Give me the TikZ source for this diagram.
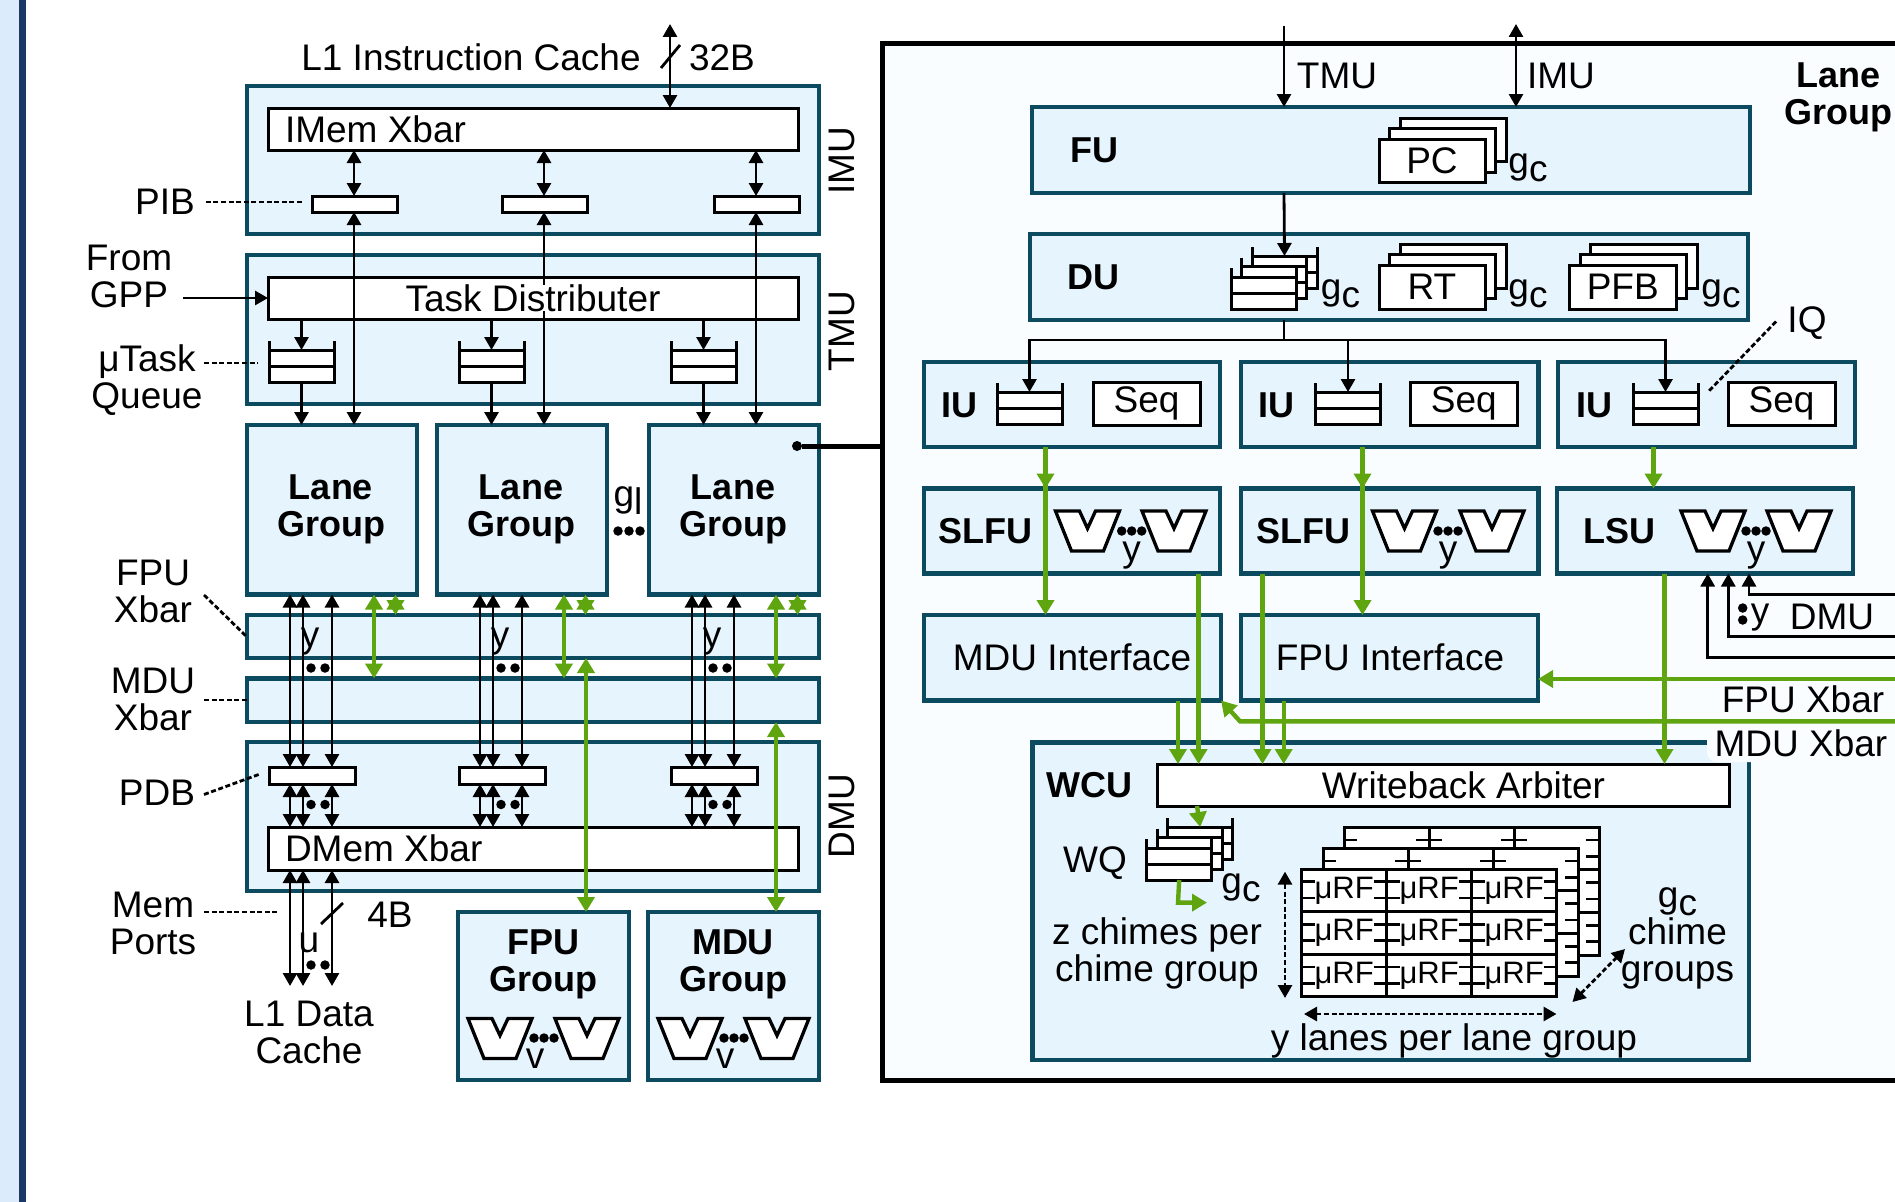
\documentclass[tikz,border=0pt]{standalone}
\usepackage{fontspec}
\setmainfont{Liberation Sans}
\usetikzlibrary{arrows.meta}
\definecolor{stripL}{HTML}{DCEBFB}
\definecolor{stripD}{HTML}{1A3864}
\definecolor{tealB}{HTML}{0B4A5F}
\definecolor{unitF}{HTML}{E6F4FE}
\definecolor{bigF}{HTML}{FAFDFF}
\definecolor{grn}{HTML}{5FA510}
\tikzset{
  unitbox/.style={draw=tealB,fill=unitF,line width=4.4pt,inner sep=0pt,outer sep=0pt},
  wbox/.style={draw=black,fill=white,line width=3pt,inner sep=0pt,outer sep=0pt,font=\fontsize{37}{37}\selectfont},
  bigbox/.style={draw=black,fill=bigF,line width=5pt,inner sep=0pt,outer sep=0pt},
  lab/.style={font=\fontsize{37}{37}\selectfont,inner sep=0pt,outer sep=0pt,align=center},
  blab/.style={font=\fontsize{36}{37}\selectfont\bfseries,inner sep=0pt,outer sep=0pt,align=center},
  one/.style={text height=26.5pt,text depth=0pt},
  urflab/.style={font=\fontsize{31}{31}\selectfont},
  blk/.style={line width=2.8pt,draw=black},
  ar/.style={blk,-{Triangle[length=13pt,width=14pt]}},
  dar/.style={blk,{Triangle[length=13pt,width=14pt]}-{Triangle[length=13pt,width=14pt]}},
  dsh/.style={blk,dash pattern=on 5pt off 2.6pt},
  dshd/.style={blk,dash pattern=on 5pt off 2.6pt,{Triangle[length=13pt,width=14pt]}-{Triangle[length=13pt,width=14pt]}},
  gl/.style={line width=4.4pt,draw=grn},
  gar/.style={gl,-{Triangle[length=15pt,width=17pt]}},
  gdar/.style={gl,{Triangle[length=15pt,width=17pt]}-{Triangle[length=15pt,width=17pt]}},
  dotn/.style={circle,fill=black,inner sep=0pt,outer sep=0pt,minimum size=9.5pt},
}
\newcommand\bx[7]{\node[#1,minimum width={(#4)-(#2)},minimum height={(#5)-(#3)}] (#6) at ({((#2)+(#4))/2},{((#3)+(#5))/2}) {#7};}
\newcommand\gsub[1]{g\raisebox{-8pt}{#1}}
% queue: #1 name, #2 left x, #3 bottom y
\newcommand\queue[3]{%
  \bx{wbox}{#2}{#3-32}{#2+65}{#3}{#1}{}
  \draw[line width=3pt] (#2,#3-41) -- (#2,#3-32) (#2+65,#3-41) -- (#2+65,#3-32) (#2,#3-16) -- (#2+65,#3-16);
}
% stack of three boxes: #1 name, #2 x1, #3 y1, #4 x2, #5 y2, #6 text
\newcommand\stackb[6]{%
  \bx{wbox}{#2+21}{#3-21}{#4+21}{#5-21}{#1back}{}
  \bx{wbox}{#2+10.5}{#3-10.5}{#4+10.5}{#5-10.5}{#1mid}{}
  \bx{wbox}{#2}{#3}{#4}{#5}{#1}{#6}
}
\newcommand\qstack[3]{%
  \queue{#1back}{#2+21}{#3-21}
  \queue{#1mid}{#2+10.5}{#3-10.5}
  \queue{#1}{#2}{#3}
}
% notched trapezoid: #1 centre x, #2 top y, #3 half top, #4 half bottom, #5 height, #6 notch depth
\newcommand\trap[6]{\draw[line width=3.3pt,fill=white,line join=miter] (#1-#3,#2) -- (#1-8,#2) -- (#1,#2+#6) -- (#1+8,#2) -- (#1+#3,#2) -- (#1+#4,#2+#5) -- (#1-#4,#2+#5) -- cycle;}
\newcommand\urflayer[4]{%
  \foreach \r in {0,1,2}{\foreach \c in {0,1,2}{%
    \pgfmathsetmacro\cx{#2+85*\c}\pgfmathsetmacro\cy{#3+42.6*\r}
    \node[wbox,urflab,minimum width=85,minimum height=42.6,anchor=north west] (#1r\r c\c) at (\cx,\cy) {#4};
    \draw[line width=2.8pt] (\cx,\cy+12.7) -- +(13,0) (\cx,\cy+29) -- +(13,0) (\cx+85,\cy+12.7) -- +(-13,0) (\cx+85,\cy+29) -- +(-13,0);
  }}%
}
\begin{document}
\begin{tikzpicture}[x=1pt,y=-1pt]
\useasboundingbox (0,0) rectangle (1895,1201.5);
\clip (0,0) rectangle (1895,1201.5);
\fill[white] (0,0) rectangle (1895,1203);
\fill[stripL] (0,0) rectangle (19,1203);
\fill[stripD] (19,0) rectangle (26,1203);

% ---------- left column ----------
\bx{unitbox}{247}{86}{819}{234}{imu}{}
\bx{unitbox}{247}{255}{819}{404}{tmu}{}
\bx{unitbox}{247}{615}{819}{658}{fpux}{}
\bx{unitbox}{247}{678.5}{819}{722}{mdux}{}
\bx{unitbox}{247}{742}{819}{891}{dmu}{}
\bx{wbox}{268}{108}{798}{150}{imem}{}
\bx{wbox}{268}{277}{798}{319}{td}{}
\bx{wbox}{268}{827}{798}{870}{dmem}{}
\bx{unitbox}{458}{912}{629}{1080}{fpug}{}
\bx{unitbox}{648}{912}{819}{1080}{mdug}{}

\foreach \i/\d in {1/0,2/190,3/402}{
  \bx{unitbox}{247+\d}{425}{417+\d}{594.5}{lg\i}{}
  \bx{wbox}{312+\d}{196}{397+\d}{212}{pib\i}{}
  \bx{wbox}{269+\d}{767}{355+\d}{784}{pdb\i}{}
  \queue{tq\i}{269+\d}{382}
  \draw[dar] (354+\d,0 |- imem.south) -- (354+\d,0 |- pib\i.north);
  \draw[dar] (354+\d,0 |- pib\i.south) -- (354+\d,0 |- lg\i.north);
  \draw[ar] (tq\i.north |- td.south) -- (tq\i.north);
  \draw[ar] (tq\i.south) -- (tq\i.south |- lg\i.north);
  \foreach \xx in {290,303,332}{
    \draw[dar] (\xx+\d,0 |- lg\i.south) -- (\xx+\d,0 |- pdb\i.north);
    \draw[dar] (\xx+\d,0 |- pdb\i.south) -- (\xx+\d,0 |- dmem.north);
  }
  \node[lab,one] (yl\i) at (310+\d,634) {y};
  \node[dotn] (ya\i) at (311+\d,668) {};
  \node[dotn] (yb\i) at (325+\d,668) {};
  \node[dotn] (pa\i) at (311+\d,804.5) {};
  \node[dotn] (pb\i) at (325+\d,804.5) {};
  \draw[gdar] (374+\d,0 |- lg\i.south) -- (374+\d,0 |- mdux.north);
  \draw[gdar] (395.5+\d,0 |- lg\i.south) -- (395.5+\d,0 |- fpux.north);
}
\foreach \xx in {290,303,332}{\coordinate (memend\xx) at (\xx,986); \draw[dar] (\xx,0 |- dmem.south) -- (memend\xx);}
\draw[gdar] (586,0 |- fpux.south) -- (586,0 |- fpug.north);
\draw[gdar] (776,0 |- mdux.south) -- (776,0 |- mdug.north);
\coordinate (l1top) at (670,24);
\draw[dar] (l1top) -- (l1top |- imem.north);
\coordinate (sla) at (661,68); \coordinate (slb) at (680,45);
\draw[blk] (sla) -- (slb);
\coordinate (slc) at (321,924); \coordinate (sld) at (343,903);
\draw[blk] (slc) -- (sld);

\node[lab,one] (tdtext) at (533,298) [fill=white] {Task Distributer};
\node[lab,one,anchor=west] (imemt) at (285,129) {IMem Xbar};
\node[lab,one,anchor=west] (dmemt) at (285,848) {DMem Xbar};
\node[lab,one] (l1i) at (471,57) {L1 Instruction Cache};
\node[lab,one] (b32) at (722,57) {32B};
\node[lab,one] (pibt) at (165,201) {PIB};
\coordinate (pibe) at (302,202);
\draw[dsh] (pibt.east |- pibe) ++(11,0) -- (pibe);
\node[lab] (gpp) at (129,276) {From\\GPP};
\coordinate (gppa) at (183,298);
\draw[ar] (gppa) -- (gppa -| td.west);
\node[lab] (mut) at (147,380) {μTask\\Queue};
\coordinate (muta) at (204,363); \coordinate (mutb) at (258,363);
\draw[dsh] (muta) -- (mutb);
\node[lab,rotate=90] (imut) at (842,161) {IMU};
\node[lab,rotate=90] (tmut) at (842,331) {TMU};
\node[lab,rotate=90] (dmut) at (842,816) {DMU};
\node[blab] (lgt1) at (331,509) {Lane\\Group};
\node[blab] (lgt2) at (521,509) {Lane\\Group};
\node[blab] (lgt3) at (733,509) {Lane\\Group};
\node[lab,one] (glab) at (628,493) {\gsub{l}};
\node[dotn] (gd1) at (618,531) {};
\node[dotn] (gd2) at (629,531) {};
\node[dotn] (gd3) at (640,531) {};
\node[dotn,minimum size=10pt] (lgdot) at (797,446) {};
\node[lab] (fpul) at (153,591) {FPU\\Xbar};
\coordinate (fpula) at (204,595); \coordinate (fpulb) at (246,636);
\draw[dsh] (fpula) -- (fpulb);
\node[lab] (mdul) at (153,699) {MDU\\Xbar};
\coordinate (mdula) at (204,700);
\draw[dsh] (mdula) -- (mdula -| mdux.west);
\node[lab,one] (pdbl) at (157,792.5) {PDB};
\coordinate (pdba) at (204,794.5); \coordinate (pdbb) at (260,774);
\draw[dsh] (pdba) -- (pdbb);
\node[lab] (meml) at (153,923) {Mem\\Ports};
\coordinate (mema) at (204,912); \coordinate (memb) at (278,912);
\draw[dsh] (mema) -- (memb);
\node[lab,one] (b4) at (390,914) {4B};
\node[lab,one] (ulab) at (309,939) {u};
\node[dotn] (ua) at (311,965) {};
\node[dotn] (ub) at (325,965) {};
\node[lab] (l1d) at (309,1032) {L1 Data\\Cache};
\node[blab] (fput) at (543,964) {FPU\\Group};
\node[blab] (mdut) at (733,964) {MDU\\Group};
\foreach \c/\e in {0/a,190/b}{
  \trap{500+\c}{1018.5}{32}{16}{40}{17}
  \trap{587+\c}{1018.5}{32}{16}{40}{17}
  \node[dotn] (vd1\e) at (534+\c,1038) {};
  \node[dotn] (vd2\e) at (544+\c,1038) {};
  \node[dotn] (vd3\e) at (554+\c,1038) {};
  \node[lab] (vl\e) at (535+\c,1059) {v};
}

% ---------- right panel ----------
\bx{bigbox}{882}{44}{1930}{1080.5}{big}{}
\draw[line width=5pt] (lgdot) -- (big.west |- lgdot);
\bx{unitbox}{1032}{107}{1750}{193}{fu}{}
\bx{unitbox}{1030}{234}{1748}{320}{du}{}
\foreach \i/\xa/\xb in {1/924/1220,2/1241/1538.5,3/1558/1855}{
  \bx{unitbox}{\xa}{362}{\xb}{447}{iu\i}{}
}
\bx{unitbox}{924}{488.5}{1220}{573.5}{sl1}{}
\bx{unitbox}{1241}{488.5}{1538.5}{573.5}{sl2}{}
\bx{unitbox}{1557}{488.5}{1853}{573.5}{lsu}{}
\bx{unitbox}{924}{615}{1221}{700.5}{mdui}{}
\bx{unitbox}{1241}{615}{1538}{700.5}{fpui}{}
\bx{unitbox}{1032.5}{742.5}{1749}{1060}{wcu}{}
\bx{wbox}{1157}{764}{1729}{806}{wb}{}

\stackb{pc}{1379}{139}{1485}{182.5}{PC}
\stackb{rt}{1379}{265}{1485}{309}{RT}
\stackb{pfb}{1569.5}{265}{1676}{309}{PFB}
\qstack{dq}{1231}{309}
\foreach \i/\x in {1/997,2/1315.5,3/1633}{\queue{iq\i}{\x}{424}}
\bx{wbox}{1093}{382}{1200}{425.5}{seq1}{Seq}
\bx{wbox}{1410.5}{382}{1517}{425.5}{seq2}{Seq}
\bx{wbox}{1728}{382}{1835}{425.5}{seq3}{Seq}
\qstack{wq}{1146.7}{880}

\urflayer{urfc}{1344}{827.3}{}
\urflayer{urfb}{1323.3}{848.3}{}
\urflayer{urfa}{1301.7}{869}{μRF}

% black connectors
\coordinate (tmut0) at (1284,26);
\coordinate (imut0) at (1516,24);
\draw[ar] (tmut0) -- (tmut0 |- fu.north);
\draw[dar] (imut0) -- (imut0 |- fu.north);
\draw[ar] (1284,0 |- fu.south) -- (dqback.north);
\coordinate (bus) at (1284,340);
\draw[blk] (1284,0 |- du.south) -- (bus);
\draw[ar] (bus) -| (iq1.north);
\draw[ar] (bus) -| (iq2.north);
\draw[ar] (bus) -| (iq3.north);
\coordinate (da) at (1900,657.3); \coordinate (db) at (1900,636.7); \coordinate (dc) at (1900,594.3);
\draw[ar] (da) -| (1707.7,0 |- lsu.south);
\draw[ar] (db) -| (1728.3,0 |- lsu.south);
\draw[ar] (dc) -| (1749,0 |- lsu.south);

% trapezoids
\foreach \c in {1087.5,1174,1404.5,1492,1713,1799}{
  \trap{\c}{511}{32}{16}{40}{17.5}
}
\foreach \d/\e in {1131.7/a,1448/b,1756/c}{
  \node[dotn] (sd1\e) at (\d-10,531) {};
  \node[dotn] (sd2\e) at (\d,531) {};
  \node[dotn] (sd3\e) at (\d+10,531) {};
  \node[lab] (syl\e) at (\d,556) {y};
}

% green connectors
\draw[gar] (1045.5,0 |- iu1.south) -- (1045.5,0 |- sl1.north);
\draw[gar] (1045.5,0 |- iu1.south) -- (1045.5,0 |- mdui.north);
\draw[gar] (1362.5,0 |- iu2.south) -- (1362.5,0 |- sl2.north);
\draw[gar] (1362.5,0 |- iu2.south) -- (1362.5,0 |- fpui.north);
\draw[gar] (1653.5,0 |- iu3.south) -- (1653.5,0 |- lsu.north);
\draw[gar] (1198.6,0 |- sl1.south) -- (1198.6,0 |- wb.north);
\draw[gar] (1262.5,0 |- sl2.south) -- (1262.5,0 |- wb.north);
\draw[gar] (1664.5,0 |- lsu.south) -- (1664.5,0 |- wb.north);
\draw[gar] (1178,0 |- mdui.south) -- (1178,0 |- wb.north);
\draw[gar] (1283.7,0 |- fpui.south) -- (1283.7,0 |- wb.north);
\coordinate (fxr) at (1900,679);
\draw[gar] (fxr) -- (fxr -| fpui.east);
\coordinate (mxr) at (1900,721.3); \coordinate (mxb) at (1240,721.3);
\draw[gar] (mxr) -- (mxb) -- (mdui.south east);
\draw[gar] (1197,0 |- wb.south) -- (wqback.north);
\coordinate (wqo) at (1178,902.6); \coordinate (wqe) at (1207,902.6);
\draw[gar] (wq.south) -- (wqo) -- (wqe);

% dashed measure arrows
\coordinate (va) at (1285,871.6); \coordinate (vb) at (1285,998);
\draw[dshd] (va) -- (vb);
\coordinate (ha) at (1304,1014); \coordinate (hb) at (1556.5,1014);
\draw[dshd] (ha) -- (hb);
\coordinate (ga) at (1572.5,1002); \coordinate (gb) at (1625,949);
\draw[dshd] (ga) -- (gb);
\coordinate (iqa) at (1776,321.5); \coordinate (iqb) at (1708,392);
\draw[dsh] (iqa) -- (iqb);

% labels
\node[lab,one] (tmul) at (1337,75) {TMU};
\node[lab,one] (imul) at (1561,75) {IMU};
\node[blab] (lgr) at (1838,97) {Lane\\Group};
\node[blab,one] (fut) at (1094,149) {FU};
\node[blab,one] (dut) at (1093,276) {DU};
\foreach \x/\y/\e in {1528/160/a,1340.5/286/b,1528/286/c,1721/286/d}{
  \node[lab,one] (gc\e) at (\x,\y) {\gsub{c}};
}
\node[lab,one] (iql) at (1807,319) {IQ};
\node[blab,one] (iut1) at (959,404) {IU};
\node[blab,one] (iut2) at (1276.5,404) {IU};
\node[blab,one] (iut3) at (1594,404) {IU};
\node[blab,one] (slt1) at (985.4,530) {SLFU};
\node[blab,one] (slt2) at (1303.5,530) {SLFU};
\node[blab,one] (lsut) at (1619,530) {LSU};
\node[lab,one] (mdit) at (1072,657) {MDU Interface};
\node[lab,one] (fpit) at (1390,657) {FPU Interface};
\node[lab,one] (fxt) at (1803,699.5) {FPU Xbar};
\node[lab,one,fill=bigF,rounded corners=10pt,minimum width=188pt,minimum height=38pt] (mxt) at (1801,743) {MDU Xbar};
\node[lab,one] (dmul) at (1832,616) {DMU};
\node[dotn] (dmd1) at (1742.7,608) {};
\node[dotn] (dmd2) at (1742.7,620) {};
\node[lab,one] (dmy) at (1760,610) {y};
\node[blab,one] (wcut) at (1089.6,784) {WCU};
\node[lab,one] (wbt) at (1463.5,785) {Writeback Arbiter};
\node[lab,one] (wql) at (1095,859.6) {WQ};
\node[lab,one] (gcw) at (1241,880) {\gsub{c}};
\node[lab] (zch) at (1157,953) {z chimes per\\chime group};
\node[lab] (gcc) at (1677.5,902) {\gsub{c}};
\node[lab] (cgr) at (1677.5,953) {chime\\groups};
\node[lab,one] (yln) at (1454,1037) {y lanes per lane group};
\end{tikzpicture}
\end{document}
